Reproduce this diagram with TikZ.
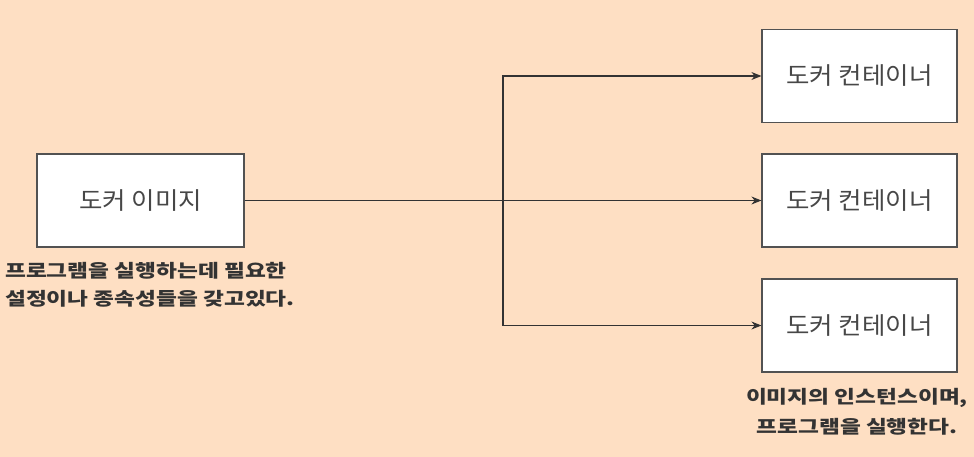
\documentclass[tikz,border=0pt]{standalone}
\usepackage{fontspec}
\setmainfont{Noto Sans CJK KR}
\newfontfamily\kr[FakeStretch=1.06]{Noto Sans CJK KR}
\newfontfamily\krw[FakeStretch=1.26]{Noto Sans CJK KR}
\usetikzlibrary{arrows.meta}
\definecolor{bg}{HTML}{FEDFC3}
\definecolor{ink}{HTML}{333333}
\tikzset{
  box/.style={draw=ink!85, line width=1.2pt, fill=white, minimum width=207pt, minimum height=93pt, inner sep=0pt, text=ink!90, font=\kr\fontsize{24}{28}\selectfont},
  conn/.style={draw=ink, line width=1.1pt, -{Stealth[length=10pt,width=8pt]}},
  note/.style={text=ink, font=\krw\bfseries\fontsize{18}{28.5}\selectfont, inner sep=0pt}
}
\begin{document}
\begin{tikzpicture}[x=1pt,y=-1pt]
\fill[bg] (0,0) rectangle (974,457);
\useasboundingbox (0,0) rectangle (974,457);
\node[box] (img) at (140.5,200.5) {도커 이미지};
\node[box, minimum width=195pt] (c1) at (859.5,76) {도커 컨테이너};
\node[box, minimum width=195pt] (c2) at (859.5,200.5) {도커 컨테이너};
\node[box, minimum width=195pt] (c3) at (859.5,325.5) {도커 컨테이너};
\coordinate (j1) at (503,76);
\coordinate (j3) at (503,325.5);
\draw[conn] (img.east) -- (c2.west);
\draw[conn] (503,200.5) -- (j1) -- (c1.west);
\draw[conn] (503,200.5) -- (j3) -- (c3.west);
\node[note, align=left, anchor=north west] (n1) at (5,262) {프로그램을 실행하는데 필요한\\설정이나 종속성들을 갖고있다.};
\node[note, align=center, anchor=north, font=\krw\bfseries\fontsize{18}{30}\selectfont] (n2) at (857,388) {이미지의 인스턴스이며,\\프로그램을 실행한다.};
\end{tikzpicture}
\end{document}
